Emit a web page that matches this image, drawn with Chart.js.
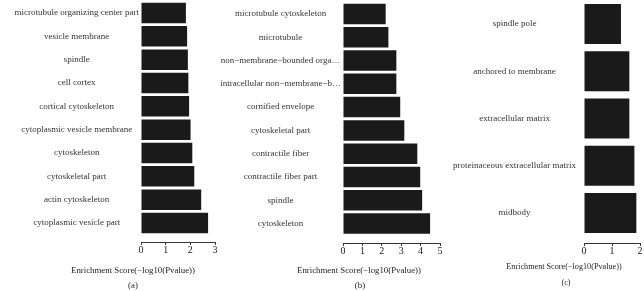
<!DOCTYPE html>
<html><head><meta charset="utf-8">
<script src="https://cdn.jsdelivr.net/npm/chart.js@4"></script>
<style>
html,body{margin:0;padding:0;background:#fff;width:644px;height:291px;overflow:hidden;}
.panel{position:absolute;top:0;}
.t{position:absolute;font-family:"Liberation Serif",serif;color:#222;text-align:center;white-space:nowrap;line-height:10px;width:200px;}
</style></head><body>
<div class="panel" style="left:0px"><canvas id="ca" width="225" height="291"></canvas></div>
<div class="panel" style="left:215px"><canvas id="cb" width="235" height="291"></canvas></div>
<div class="panel" style="left:450px"><canvas id="cc" width="194" height="291"></canvas></div>
<div class="t" style="left:33px;top:265px;font-size:8.8px">Enrichment Score(−log10(Pvalue))</div>
<div class="t" style="left:33px;top:280px;font-size:8.8px">(a)</div>
<div class="t" style="left:259px;top:265px;font-size:8.8px">Enrichment Score(−log10(Pvalue))</div>
<div class="t" style="left:260px;top:280px;font-size:8.8px">(b)</div>
<div class="t" style="left:464px;top:262px;font-size:8.2px">Enrichment Score(−log10(Pvalue))</div>
<div class="t" style="left:466px;top:278px;font-size:8.2px">(c)</div>
<script>
// Panel (a)
const categoriesA = ["microtubule organizing center part","vesicle membrane","spindle","cell cortex","cortical cytoskeleton","cytoplasmic vesicle membrane","cytoskeleton","cytoskeletal part","actin cytoskeleton","cytoplasmic vesicle part"];
const valuesA = [1.82,1.87,1.90,1.92,1.95,2.01,2.08,2.16,2.44,2.72];
const xTicksA = [0,1,2,3];
// Panel (b)
const categoriesB = ["microtubule cytoskeleton","microtubule","non−membrane−bounded orga…","intracellular non−membrane−b…","cornified envelope","cytoskeletal part","contractile fiber","contractile fiber part","spindle","cytoskeleton"];
const valuesB = [2.20,2.34,2.75,2.75,2.95,3.16,3.83,3.98,4.08,4.49];
const xTicksB = [0,1,2,3,4,5];
// Panel (c)
const categoriesC = ["spindle pole","anchored to membrane","extracellular matrix","proteinaceous extracellular matrix","midbody"];
const valuesC = [1.32,1.62,1.62,1.80,1.87];
const xTicksC = [0,1,2];

function makeChart(id, cats, vals, xTicks, cfg) {
  return new Chart(document.getElementById(id), {
    type: 'bar',
    data: { datasets: [{
      data: vals.map((v, i) => ({x: v, y: i})),
      backgroundColor: '#1a1a1a', borderWidth: 0, clip: false,
      barPercentage: cfg.barPct, categoryPercentage: 1
    }]},
    options: {
      indexAxis: 'y', responsive: false, animation: false, devicePixelRatio: 1,
      layout: {padding: {left: 0, right: cfg.padR, top: 0, bottom: cfg.padB}},
      plugins: {legend: {display: false}, tooltip: {enabled: false}},
      scales: {
        x: {
          type: 'linear', min: xTicks[0], max: xTicks[xTicks.length - 1],
          afterBuildTicks: s => { s.ticks = xTicks.map(v => ({value: v})); },
          ticks: {font: {family: 'Liberation Serif', size: 10}, color: '#222', padding: -1, maxRotation: 0},
          grid: {display: true, drawOnChartArea: false, drawTicks: true, tickLength: 3, color: '#333'},
          border: {display: true, color: '#333', width: 1},
          afterFit: s => { s.height = 20; }
        },
        y: {
          type: 'linear', reverse: true, offset: false, min: cfg.yMin, max: cfg.yMax,
          grid: {display: false, drawTicks: false, offset: false}, border: {display: false},
          afterBuildTicks: s => { s.ticks = cats.map((_, i) => ({value: i})); },
          ticks: {callback: v => cats[v], crossAlign: 'center', padding: cfg.labPad, autoSkip: false,
                  font: {family: 'Liberation Serif', size: 9}, color: '#333'},
          afterFit: s => { s.width = cfg.yW; }
        }
      }
    }
  });
}

makeChart('ca', categoriesA, valuesA, xTicksA, {barPct: 0.88, padR: 10, padB: 29, yW: 141, labPad: 2, yMin: -0.240, yMax: 9.814});
makeChart('cb', categoriesB, valuesB, xTicksB, {barPct: 0.88, padR: 10, padB: 28, yW: 128, labPad: 2, yMin: -0.2835, yMax: 9.838});
makeChart('cc', categoriesC, valuesC, xTicksC, {barPct: 0.85, padR: 4, padB: 28, yW: 134, labPad: 8, yMin: -0.224, yMax: 4.635});
</script>
</body></html>
